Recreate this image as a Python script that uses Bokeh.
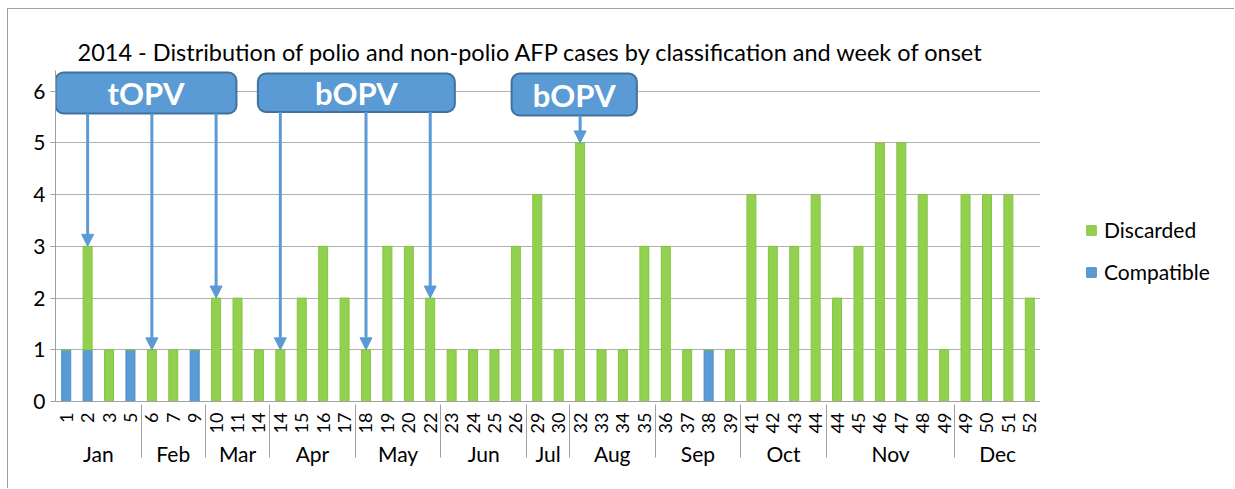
from bokeh.plotting import figure
from bokeh.layouts import row
from bokeh.models import (FactorRange, Range1d, FixedTicker, ColumnDataSource, Arrow,
                          NormalHead, Legend, LegendItem)
from bokeh.core.properties import value
from bokeh.embed import file_html
from bokeh.resources import INLINE

months = ["Jan", "Jan", "Jan", "Jan", "Feb", "Feb", "Feb", "Mar", "Mar", "Mar",
          "Apr", "Apr", "Apr", "Apr", "May", "May", "May", "May", "Jun", "Jun", "Jun", "Jun",
          "Jul", "Jul", "Aug", "Aug", "Aug", "Aug", "Sep", "Sep", "Sep", "Sep",
          "Oct", "Oct", "Oct", "Oct", "Nov", "Nov", "Nov", "Nov", "Nov", "Nov",
          "Dec", "Dec", "Dec", "Dec"]
weeks = ["1", "2", "3", "5", "6", "7", "9", "10", "11", "14",
         "14", "15", "16", "17", "18", "19", "20", "22", "23", "24", "25", "26",
         "29", "30", "32", "33", "34", "35", "36", "37", "38", "39",
         "41", "42", "43", "44", "44", "45", "46", "47", "48", "49",
         "49", "50", "51", "52"]
compatible = [1, 1, 0, 1,  0, 0, 1,  0, 0, 0,  0, 0, 0, 0,  0, 0, 0, 0,  0, 0, 0, 0,
              0, 0,  0, 0, 0, 0,  0, 0, 1, 0,  0, 0, 0, 0,  0, 0, 0, 0, 0, 0,  0, 0, 0, 0]
discarded = [0, 2, 1, 0,  1, 1, 0,  2, 2, 1,  1, 2, 3, 2,  1, 3, 3, 2,  1, 1, 1, 3,
             4, 1,  5, 1, 1, 3,  3, 1, 0, 1,  4, 3, 3, 4,  2, 3, 5, 5, 4, 1,  4, 4, 4, 2]
y_ticks = [0, 1, 2, 3, 4, 5, 6]
series_names = ["Compatible", "Discarded"]

campaigns = ["tOPV", "bOPV", "bOPV"]
campaign_targets = [[("Jan", "2"), ("Feb", "6"), ("Mar", "10")],
                    [("Apr", "14"), ("May", "18"), ("May", "22")],
                    [("Aug", "32")]]

BLUE = "#5B9BD5"
GREEN = "#92D050"
FONT = "Lato"
COLORS = [BLUE, GREEN]
LINES = ["#4A8AC8", "#86C440"]

factors = list(zip(months, weeks))
src = ColumnDataSource(dict(x=factors, compatible=compatible, discarded=discarded))

W, H = 1226, 479
PW = 1032
p = figure(x_range=FactorRange(*factors, factor_padding=0, group_padding=0,
                               subgroup_padding=0, range_padding=0),
           y_range=Range1d(0, 6.4), width=PW, height=H,
           output_backend="svg", toolbar_location=None,
           min_border_left=47, min_border_top=61, min_border_bottom=H - 392,
           min_border_right=0)

rs = p.vbar_stack(["compatible", "discarded"], x="x", width=0.42, source=src,
                  fill_color=COLORS, line_color=LINES, line_width=1)

# callout boxes
box_left = [0.0, 9.45, 21.3]
box_right = [8.45, 18.65, 27.15]
box_bottom = [5.57, 5.6, 5.53]
box_top = [6.36, 6.34, 6.34]
p.quad(left=box_left, right=box_right, bottom=box_bottom, top=box_top,
       fill_color=BLUE, line_color="#41719C", line_width=2, border_radius=8)
p.text(x=[(a + b) / 2 for a, b in zip(box_left, box_right)],
       y=[(a + b) / 2 for a, b in zip(box_bottom, box_top)],
       text=campaigns, text_color="white", text_font=value(FONT),
       text_font_style="bold", text_font_size="31px", text_align="center",
       text_baseline="middle")

totals = {f: c + d for f, c, d in zip(factors, compatible, discarded)}
xs, ys, ye = [], [], []
for i, tg in enumerate(campaign_targets):
    for f in tg:
        xs.append(f)
        ys.append(box_bottom[i])
        ye.append(totals[f])
arrow_src = ColumnDataSource(dict(xs=xs, ys=ys, ye=ye))
p.add_layout(Arrow(end=NormalHead(size=12, fill_color=BLUE, line_color=BLUE),
                   x_start="xs", y_start="ys", x_end="xs", y_end="ye",
                   source=arrow_src, line_color=BLUE, line_width=3))

# title
p.title.text = "2014 - Distribution of polio and non-polio AFP cases by classification and week of onset"
p.title.text_font = FONT
p.title.text_font_size = "23.5px"
p.title.text_font_style = "normal"
p.title.text_color = "black"
p.title.align = "left"
p.title.offset = 22

# axes
p.outline_line_color = None
p.xgrid.grid_line_color = None
p.ygrid.grid_line_color = "#B0B0B0"
p.yaxis.ticker = FixedTicker(ticks=y_ticks)
p.yaxis.axis_line_color = "#A0A0A0"
p.yaxis.major_tick_line_color = "#A0A0A0"
p.yaxis.major_tick_in = 0
p.yaxis.major_tick_out = 5
p.yaxis.minor_tick_line_color = None
p.yaxis.major_label_text_font = FONT
p.yaxis.major_label_text_font_size = "21px"
p.yaxis.major_label_text_color = "black"

p.xaxis.axis_line_color = "#A0A0A0"
p.xaxis.major_tick_line_color = None
p.xaxis.major_label_orientation = 1.5708
p.xaxis.major_label_text_font = FONT
p.xaxis.major_label_text_font_size = "18px"
p.xaxis.major_label_text_color = "black"
p.xaxis.group_text_font = FONT
p.xaxis.group_text_font_size = "21px"
p.xaxis.group_text_font_style = "normal"
p.xaxis.group_text_color = "black"
p.xaxis.separator_line_color = "#A0A0A0"
p.xaxis.separator_line_width = 1

# legend panel
lp = figure(width=W - PW, height=H, output_backend="svg", toolbar_location=None,
            x_axis_type=None, y_axis_type=None, min_border=0,
            x_range=Range1d(0, 1), y_range=Range1d(0, 1))
lp.outline_line_color = None
lp.grid.visible = False
dummy = {}
for name, fc, lc in zip(series_names, COLORS, LINES):
    # a swatch source placed outside the visible range: only its legend entry shows
    dummy[name] = lp.vbar(x=[10], top=[1], width=0.5, fill_color=fc, line_color=lc)
legend = Legend(items=[LegendItem(label=n, renderers=[dummy[n]]) for n in reversed(series_names)],
                location=(45, 117), label_text_font=FONT, label_text_font_size="21px",
                label_text_color="black",
                glyph_width=12, glyph_height=12, spacing=17, border_line_color=None,
                background_fill_alpha=0, padding=0, margin=0, label_standoff=7)
lp.add_layout(legend)

layout = row(p, lp)
layout.styles = {"border-left": "1px solid #a0a0a0", "border-top": "1px solid #a0a0a0",
                 "margin-left": "7px", "margin-top": "8px"}

open("out.html", "w").write(file_html(layout, INLINE))
